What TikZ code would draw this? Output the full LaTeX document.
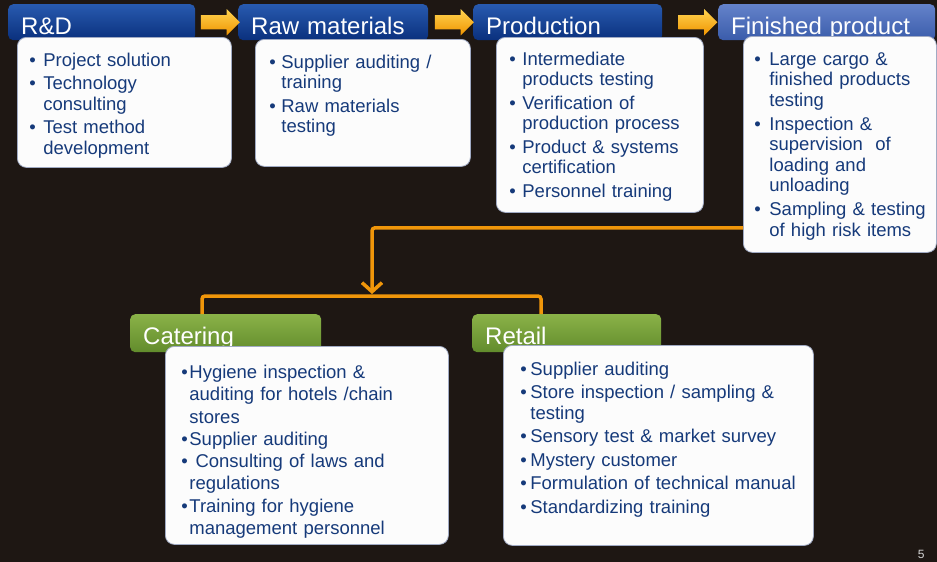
\documentclass[tikz,border=0pt]{standalone}
\usepackage{fontspec}
\setmainfont{Liberation Sans}
\usetikzlibrary{arrows.meta,positioning,calc,shapes.arrows}

\definecolor{slidebg}{RGB}{30,23,19}
\definecolor{stagetop}{RGB}{40,90,175}
\definecolor{stagebot}{RGB}{10,48,125}
\definecolor{fintop}{RGB}{100,130,202}
\definecolor{finbot}{RGB}{58,92,170}
\definecolor{greentop}{RGB}{138,178,72}
\definecolor{greenbot}{RGB}{98,140,44}
\definecolor{arrowtop}{RGB}{255,212,80}
\definecolor{arrowbot}{RGB}{240,148,0}
\definecolor{feedorange}{RGB}{240,150,10}
\definecolor{cardfill}{RGB}{252,252,252}
\definecolor{cardedge}{RGB}{160,170,195}
\definecolor{itemblue}{RGB}{22,58,122}
\definecolor{pagegray}{RGB}{210,210,210}

\hyphenpenalty=10000
\exhyphenpenalty=10000
\newcommand\stagefont{\fontsize{24pt}{26pt}\selectfont}
\newcommand\cardfont{\fontsize{18.5pt}{20.5pt}\selectfont}
\newcommand\catfont{\fontsize{18.5pt}{22.3pt}\selectfont}
\newcommand\pagefont{\fontsize{12pt}{14pt}\selectfont}
\newlength\bulhang
\newlength\itemgap
\newcommand\itm[1]{\hangindent=\bulhang\hangafter=1\noindent\makebox[\bulhang][l]{\textbullet}#1\par\vspace{\itemgap}}

\begin{document}
\begin{tikzpicture}[
  x=1pt, y=-1pt,
  stage/.style={anchor=north west, rounded corners=5pt, inner xsep=13pt, inner ysep=4pt, text height=26pt, text depth=2pt, align=left, text=white, font=\stagefont},
  bluestage/.style={stage, top color=stagetop, bottom color=stagebot},
  greenstage/.style={stage, top color=greentop, bottom color=greenbot, text depth=4pt},
  card/.style={anchor=north west, draw=cardedge, line width=0.8pt, fill=cardfill, rounded corners=9pt, align=left, text=itemblue, font=\cardfont, inner ysep=14pt, text height=15pt},
  bullets/.style 2 args={execute at begin node={\setlength\bulhang{#1}\setlength\itemgap{#2}}},
  flowarrow/.style={single arrow, single arrow head extend=6pt, minimum height=39pt, minimum width=26pt, inner sep=7pt, top color=arrowtop, bottom color=arrowbot},
  feed/.style={draw=feedorange, line width=3.5pt, rounded corners=3pt}
]
% slide background
\fill[slidebg] (0,0) rectangle (937,562);
\useasboundingbox (0,0) rectangle (937,562);

% Chain stages (top row)
\node[bluestage, text width=161pt] (rd) at (8,4) {R\&D};
\node[bluestage, text width=164pt] (raw) at (238,4) {Raw materials};
\node[bluestage, text width=163pt] (prod) at (473,4) {Production};
\node[stage, top color=fintop, bottom color=finbot, text width=191pt] (fin) at (718,4) {Finished product};

% Block arrows between stages
\node[flowarrow] (ar1) at ($(rd.east)!0.5!(raw.west)$) {};
\node[flowarrow] (ar2) at ($(raw.east)!0.5!(prod.west)$) {};
\node[flowarrow] (ar3) at ($(prod.east)!0.5!(fin.west)+(4,0)$) {};

% Service cards of the top row
\node[card, inner xsep=12pt, text width=190pt, text depth=87pt, bullets={14pt}{3pt}] (rdcard) at ($(rd.north west)+(9,33)$) {%
\itm{Project solution}\itm{Technology\newline consulting}\itm{Test method\newline development}};
\node[card, inner xsep=14pt, text width=187pt, text depth=84pt, bullets={12pt}{3pt}] (rawcard) at ($(raw.north west)+(17,35)$) {%
\itm{Supplier auditing /\newline training}\itm{Raw materials\newline testing}};
\node[card, inner xsep=13pt, text width=181pt, text height=14pt, text depth=133pt, bullets={13pt}{3pt}] (prodcard) at ($(prod.north west)+(23,33)$) {%
\itm{Intermediate\newline products testing}\itm{Verification of\newline production process}\itm{Product \& systems\newline certification}\itm{Personnel training}};
\node[card, inner xsep=11pt, text width=171pt, text depth=173pt, bullets={15pt}{3.5pt}] (fincard) at ($(fin.north west)+(25,32)$) {%
\itm{Large cargo \&\newline finished products\newline testing}\itm{Inspection \&\newline supervision\ \ of\newline loading and\newline unloading}\itm{Sampling~\&~testing\newline of high risk items}};

% Market segments (bottom row)
\node[greenstage, text width=165pt] (cater) at (130,314) {Catering};
\node[greenstage, text width=163pt] (retail) at (472,314) {Retail};

\node[card, font=\catfont, inner xsep=16pt, text width=251pt, text height=18pt, text depth=152pt, bullets={8pt}{0pt}] (catcard) at ($(cater.north west)+(35,32)$) {%
\itm{Hygiene inspection \&\newline auditing for hotels /chain\newline stores}\itm{Supplier auditing}\itm{\ Consulting of laws and\newline regulations}\itm{Training for hygiene\newline management personnel}};
\node[card, inner xsep=17pt, text width=276pt, text height=16pt, text depth=156pt, bullets={10pt}{3pt}] (retcard) at ($(retail.north west)+(31,31)$) {%
\itm{Supplier auditing}\itm{Store inspection / sampling \&\newline testing}\itm{Sensory test \& market survey}\itm{Mystery customer}\itm{Formulation~of~technical~manual}\itm{Standardizing training}};

% Feed from finished product down to the segments
\coordinate (split) at (372,296);
\draw[feed, -{Straight Barb[length=9pt, width=20pt]}] ($(fincard.south west)+(0,-25)$) -| ($(split)+(0,-2)$);
\draw[feed] ($(cater.north west)+(72,0)$) |- (split) -| ($(retail.north west)+(69,0)$);

% slide number
\node[font=\pagefont, text=pagegray, anchor=base east] (pagenum) at (928,558) {5};
\end{tikzpicture}
\end{document}
